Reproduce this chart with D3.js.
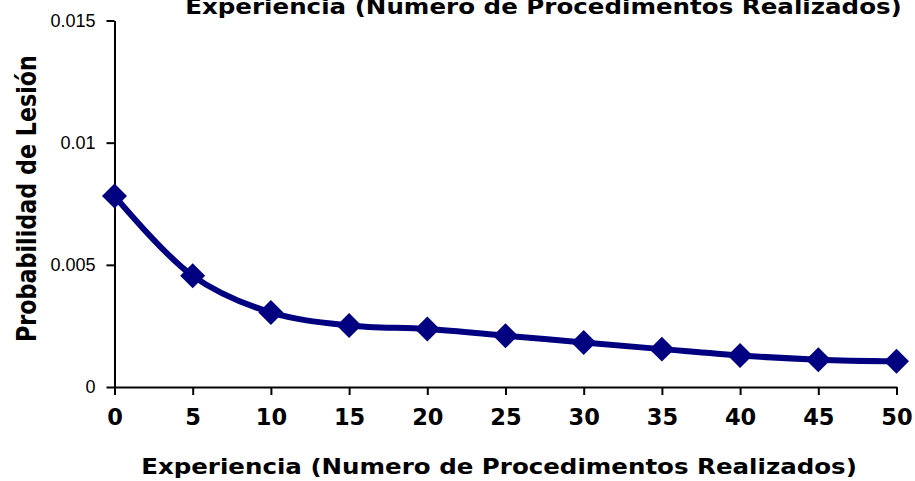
<!DOCTYPE html>
<html><head><meta charset="utf-8">
<script src="https://cdn.jsdelivr.net/npm/d3@7"></script>
<style>body{margin:0;background:#fff}svg{display:block}</style>
</head><body>
<svg id="c" width="915" height="481"></svg>
<script>
const experiencia = [0, 5, 10, 15, 20, 25, 30, 35, 40, 45, 50];
const probabilidad = [0.00782, 0.00455, 0.00305, 0.00252, 0.00237, 0.0021, 0.00182, 0.00155, 0.00129, 0.00112, 0.00105];
const xTicks = [0, 5, 10, 15, 20, 25, 30, 35, 40, 45, 50];
const yTicks = [0, 0.005, 0.01, 0.015];
const yTickLabels = ["0", "0.005", "0.01", "0.015"];
const titleText = "Experiencia (Numero de Procedimentos Realizados)";
const xTitle = "Experiencia (Numero de Procedimentos Realizados)";
const yTitle = "Probabilidad de Lesión";

const svg = d3.select("#c");
const x = d3.scaleLinear().domain([0, 50]).range([114.5, 896.5]);
const y = d3.scaleLinear().domain([0, 0.015]).range([387, 20.5]);

function fitText(sel, target) {
  const w = sel.node().getComputedTextLength();
  return target / w;
}

// title (clipped at top, as in the reference)
const t = svg.append("text").attr("text-anchor", "middle")
  .attr("font-family", "DejaVu Sans").attr("font-weight", "bold").attr("font-size", 22)
  .text(titleText);
t.attr("transform", `translate(543.5,14) scale(${fitText(t, 717)},1)`);

// y axis
const yAxis = d3.axisLeft(y).tickValues(yTicks).tickFormat((d, i) => yTickLabels[i]).tickSize(8).tickSizeOuter(0).tickPadding(11);
const gy = svg.append("g").attr("transform", `translate(${x(0)},0)`).call(yAxis);
gy.select(".domain").attr("stroke", "#000").attr("stroke-width", 2);
gy.selectAll(".tick line").attr("stroke", "#000").attr("stroke-width", 2);
gy.selectAll(".tick text").attr("font-family", "Liberation Sans, Arial").attr("font-size", 18).attr("fill", "#000");

// x axis
const xAxis = d3.axisBottom(x).tickValues(xTicks).tickFormat(d3.format("d")).tickSize(8).tickSizeOuter(0).tickPadding(14);
const gx = svg.append("g").attr("transform", `translate(0,${y(0)})`).call(xAxis);
gx.select(".domain").attr("stroke", "#000").attr("stroke-width", 2);
gx.selectAll(".tick line").attr("stroke", "#000").attr("stroke-width", 2);
gx.selectAll(".tick text").attr("font-family", "DejaVu Sans").attr("font-weight", "bold").attr("font-size", 22.5).attr("fill", "#000");

// x title
const xt = svg.append("text").attr("text-anchor", "middle")
  .attr("font-family", "DejaVu Sans").attr("font-weight", "bold").attr("font-size", 22)
  .text(xTitle);
xt.attr("transform", `translate(499,474) scale(${fitText(xt, 716)},1)`);

// y title
const yt = svg.append("text").attr("text-anchor", "middle")
  .attr("font-family", "DejaVu Sans").attr("font-weight", "bold").attr("font-size", 22.5)
  .text(yTitle);
const ys = 287 / yt.node().getComputedTextLength();
yt.attr("transform", `translate(36,198.5) rotate(-90) scale(${ys},${1.15})`);

const data = experiencia.map((d, i) => ({ x: d, y: probabilidad[i] }));
const line = d3.line().x(d => x(d.x)).y(d => y(d.y)).curve(d3.curveCatmullRom.alpha(0.5));
svg.append("path").datum(data).attr("d", line).attr("fill", "none")
  .attr("stroke", "#000080").attr("stroke-width", 6).attr("stroke-linejoin", "round");

const sym = d3.symbol().type(d3.symbolSquare).size(312);
svg.selectAll(".m").data(data).join("path").attr("class", "m")
  .attr("transform", d => `translate(${x(d.x)},${y(d.y)}) rotate(45)`)
  .attr("d", sym).attr("fill", "#000080");
</script>
</body></html>
